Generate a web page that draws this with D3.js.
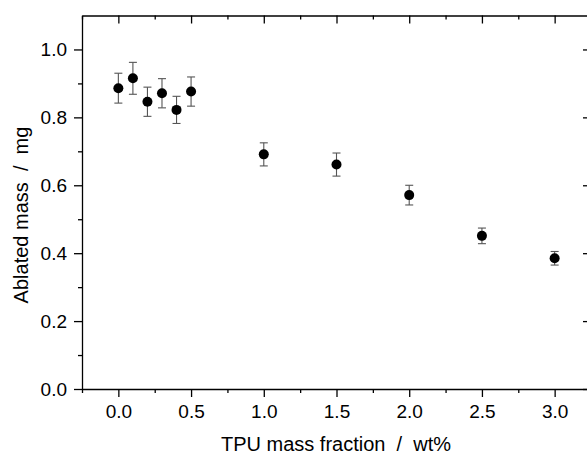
<!DOCTYPE html>
<html>
<head>
<meta charset="utf-8">
<script src="https://cdn.jsdelivr.net/npm/d3@7"></script>
<style>
  html, body { margin: 0; padding: 0; background: #fff; }
  svg { display: block; }
  text { font-family: "Liberation Sans", Arial, sans-serif; fill: #000; }
</style>
</head>
<body>
<svg id="chart" width="587" height="454"></svg>
<script>
// Data
const tpuFraction = [0.0, 0.1, 0.2, 0.3, 0.4, 0.5, 1.0, 1.5, 2.0, 2.5, 3.0];
const ablatedMass = [0.886, 0.915, 0.846, 0.871, 0.822, 0.876, 0.691, 0.661, 0.571, 0.451, 0.385];
const massError   = [0.044, 0.047, 0.043, 0.043, 0.040, 0.043, 0.034, 0.034, 0.029, 0.023, 0.020];
const xTicks = [0.0, 0.5, 1.0, 1.5, 2.0, 2.5, 3.0];
const yTicks = [0.0, 0.2, 0.4, 0.6, 0.8, 1.0];
const xTitle = "TPU mass fraction  /  wt%";
const yTitle = "Ablated mass  /  mg";

(function () {
const svg = d3.select("#chart");
const mLeft = 82, mRight = 591, mTop = 15.5, mBottom = 389;

const x = d3.scaleLinear().domain([-0.25, 3.25]).range([mLeft, mRight]);
const y = d3.scaleLinear().domain([0, 1.1]).range([mBottom, mTop]);

const xMinor = d3.range(-0.25, 3.26, 0.25).filter(v => !xTicks.some(t => Math.abs(t - v) < 1e-6));
const yMinor = d3.range(0.1, 1.1, 0.2);

const axisStyle = g => {
  g.select(".domain").attr("stroke", "#000").attr("stroke-width", 1.3);
  g.selectAll(".tick line").attr("stroke", "#000").attr("stroke-width", 1.3);
  g.selectAll(".tick text").style("font-size", "19px").style("font-family", "'Liberation Sans', Arial, sans-serif");
};

// Bottom axis
svg.append("g").attr("transform", `translate(0,${mBottom})`)
  .call(d3.axisBottom(x).tickValues(xTicks).tickFormat(d3.format(".1f")).tickSizeOuter(0).tickSizeInner(8).tickPadding(8))
  .call(axisStyle);
svg.append("g").attr("transform", `translate(0,${mBottom})`)
  .call(d3.axisBottom(x).tickValues(xMinor).tickFormat("").tickSizeOuter(0).tickSizeInner(4))
  .call(axisStyle).call(g => g.select(".domain").remove());

// Top axis (ticks inward)
svg.append("g").attr("transform", `translate(0,${mTop})`)
  .call(d3.axisTop(x).tickValues(xTicks).tickFormat("").tickSizeOuter(0).tickSizeInner(-8))
  .call(axisStyle);
svg.append("g").attr("transform", `translate(0,${mTop})`)
  .call(d3.axisTop(x).tickValues(xMinor).tickFormat("").tickSizeOuter(0).tickSizeInner(-4))
  .call(axisStyle).call(g => g.select(".domain").remove());

// Left axis
svg.append("g").attr("transform", `translate(${mLeft},0)`)
  .call(d3.axisLeft(y).tickValues(yTicks).tickFormat(d3.format(".1f")).tickSizeOuter(0).tickSizeInner(8).tickPadding(7))
  .call(axisStyle);
svg.append("g").attr("transform", `translate(${mLeft},0)`)
  .call(d3.axisLeft(y).tickValues(yMinor).tickFormat("").tickSizeOuter(0).tickSizeInner(4))
  .call(axisStyle).call(g => g.select(".domain").remove());

// Right axis (ticks inward)
svg.append("g").attr("transform", `translate(${mRight},0)`)
  .call(d3.axisRight(y).tickValues(yTicks).tickFormat("").tickSizeOuter(0).tickSizeInner(-8))
  .call(axisStyle);
svg.append("g").attr("transform", `translate(${mRight},0)`)
  .call(d3.axisRight(y).tickValues(yMinor).tickFormat("").tickSizeOuter(0).tickSizeInner(-4))
  .call(axisStyle).call(g => g.select(".domain").remove());

// Axis titles
svg.append("text")
  .attr("x", 336).attr("y", 451)
  .attr("text-anchor", "middle")
  .style("font-size", "20px")
  .style("white-space", "pre")
  .attr("xml:space", "preserve")
  .text(xTitle);

svg.append("text")
  .attr("transform", `translate(27.5,215) rotate(-90)`)
  .attr("text-anchor", "middle")
  .style("font-size", "20px")
  .style("white-space", "pre")
  .attr("xml:space", "preserve")
  .text(yTitle);

// Error bars
const pts = tpuFraction.map((v, i) => ({ x: v, y: ablatedMass[i], e: massError[i] }));
const eb = svg.append("g").attr("stroke", "#555").attr("stroke-width", 1.1).attr("fill", "none");
pts.forEach(d => {
  const cx = x(d.x), y1 = y(d.y + d.e), y2 = y(d.y - d.e);
  eb.append("line").attr("x1", cx).attr("x2", cx).attr("y1", y1).attr("y2", y2);
  eb.append("line").attr("x1", cx - 4).attr("x2", cx + 4).attr("y1", y1).attr("y2", y1);
  eb.append("line").attr("x1", cx - 4).attr("x2", cx + 4).attr("y1", y2).attr("y2", y2);
});

// Markers
svg.append("g").selectAll("circle").data(pts).join("circle")
  .attr("cx", d => x(d.x)).attr("cy", d => y(d.y)).attr("r", 5)
  .attr("fill", "#000");
})();
</script>
</body>
</html>
